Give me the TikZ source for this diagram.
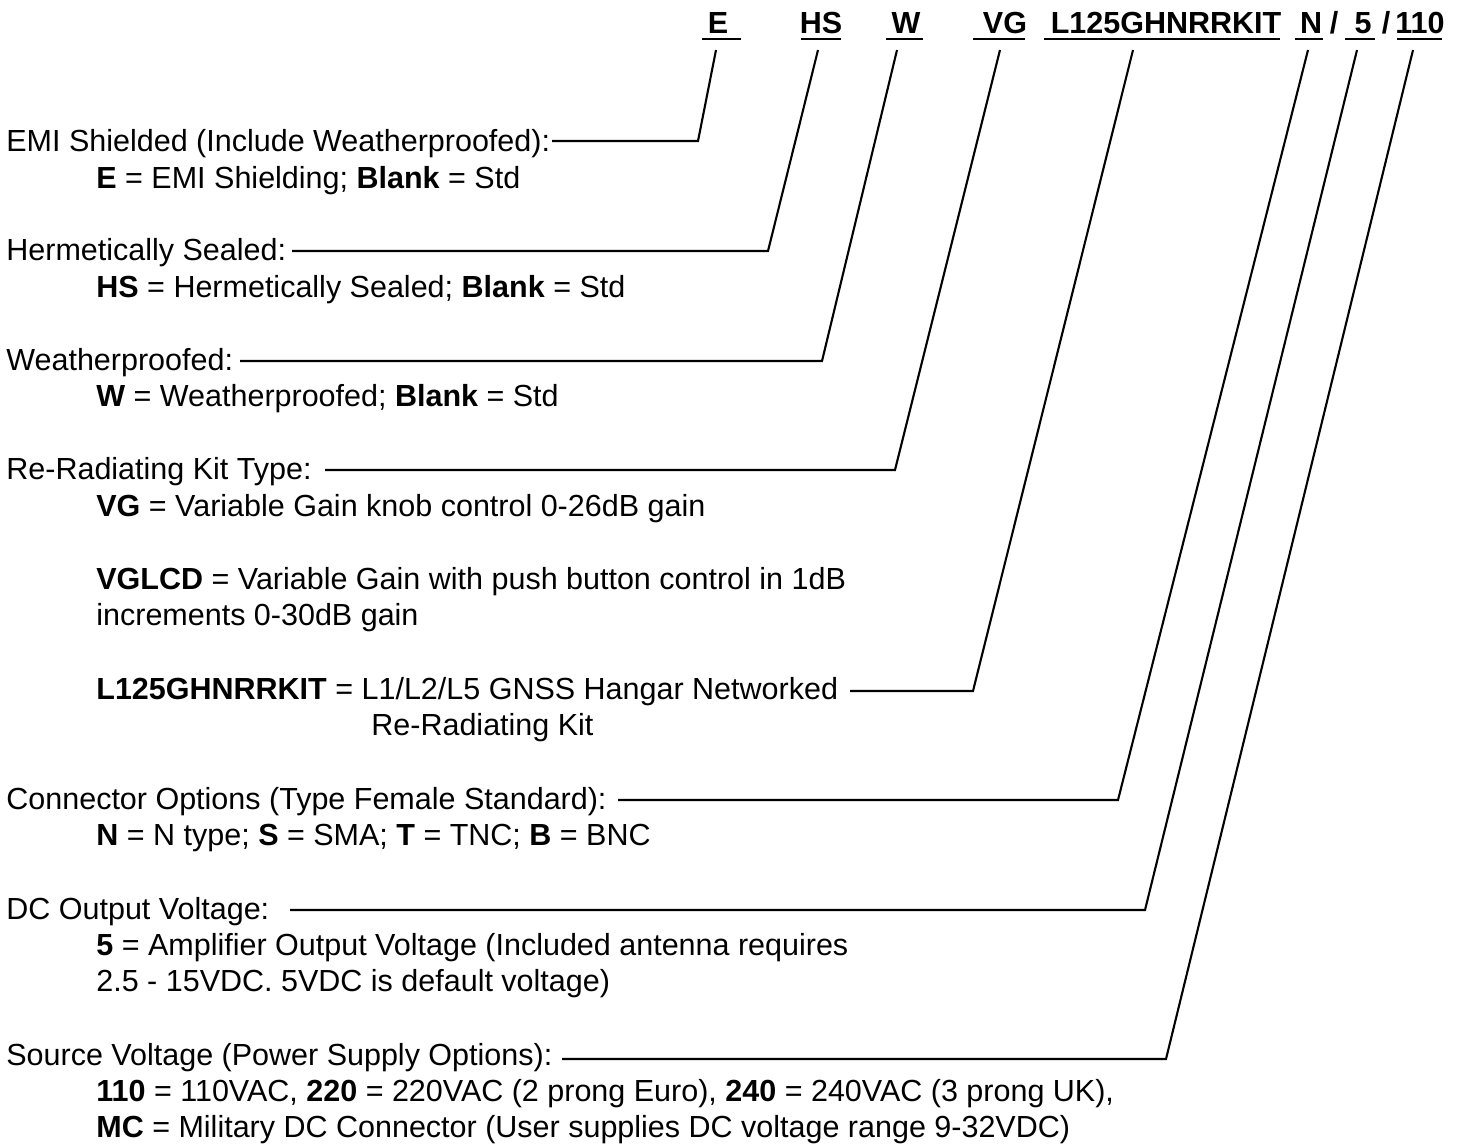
\documentclass[tikz,border=0pt]{standalone}
\usepackage{fontspec}
\setmainfont{Liberation Sans}
\begin{document}
\begin{tikzpicture}[x=0.5pt,y=-0.5pt,
  txt/.style={anchor=base west,inner sep=0pt,font=\fontsize{15.25}{18}\selectfont},
  code/.style={anchor=base,inner sep=0pt,font=\fontsize{15.25}{18}\selectfont\bfseries},
  conn/.style={line width=1.05pt,line join=miter},
  uline/.style={line width=0.9pt}]
\fill[white] (0,0) rectangle (1465,1147);
\useasboundingbox (0,0) rectangle (1465,1147);
% header code
\node[code] (cE) at (718,33) {E};
\node[code] (cHS) at (821,33) {HS};
\node[code] (cW) at (906,33) {W};
\node[code] (cVG) at (1005,33) {VG};
\node[code] (cL) at (1166,33) {L125GHNRRKIT};
\node[code] (cN) at (1311,33) {N};
\node[code] (s1) at (1334,33) {/};
\node[code] (c5) at (1363,33) {5};
\node[code] (s2) at (1386,33) {/};
\node[code] (c110) at (1420,33) {110};
\draw[uline] (702,39) -- (741,39);
\draw[uline] (801,39) -- (841,39);
\draw[uline] (886,39) -- (923,39);
\draw[uline] (973,39) -- (1025,39);
\draw[uline] (1044,39) -- (1280,39);
\draw[uline] (1295,39) -- (1323,39);
\draw[uline] (1345,39) -- (1375,39);
\draw[uline] (1397,39) -- (1442,39);
% texts
\node[txt] (h1) at (6,151) {EMI Shielded (Include Weatherproofed):};
\node[txt] (d1) at (96,188) {\textbf{E} = EMI Shielding; \textbf{Blank} = Std};
\node[txt] (h2) at (6,260) {Hermetically Sealed:};
\node[txt] (d2) at (96,297) {\textbf{HS} = Hermetically Sealed; \textbf{Blank} = Std};
\node[txt] (h3) at (6,370) {Weatherproofed:};
\node[txt] (d3) at (96,406) {\textbf{W} = Weatherproofed; \textbf{Blank} = Std};
\node[txt] (h4) at (6,479) {Re-Radiating Kit Type:};
\node[txt] (d4a) at (96,516) {\textbf{VG} = Variable Gain knob control 0-26dB gain};
\node[txt] (d4b) at (96,589) {\textbf{VGLCD} = Variable Gain with push button control in 1dB};
\node[txt] (d4c) at (96,625) {increments 0-30dB gain};
\node[txt] (d4d) at (96,699) {\textbf{L125GHNRRKIT} = L1/L2/L5 GNSS Hangar Networked};
\node[txt] (d4e) at (371,735) {Re-Radiating Kit};
\node[txt] (h5) at (6,809) {Connector Options (Type Female Standard):};
\node[txt] (d5) at (96,845) {\textbf{N} = N type; \textbf{S} = SMA; \textbf{T} = TNC; \textbf{B} = BNC};
\node[txt] (h6) at (6,919) {DC Output Voltage:};
\node[txt] (d6a) at (96,955) {\textbf{5} = Amplifier Output Voltage (Included antenna requires};
\node[txt] (d6b) at (96,991) {2.5 - 15VDC. 5VDC is default voltage)};
\node[txt] (h7) at (6,1065) {Source Voltage (Power Supply Options):};
\node[txt] (d7a) at (96,1101) {\textbf{110} = 110VAC, \textbf{220} = 220VAC (2 prong Euro), \textbf{240} = 240VAC (3 prong UK),};
\node[txt] (d7b) at (96,1137) {\textbf{MC} = Military DC Connector (User supplies DC voltage range 9-32VDC)};
% connector coordinates
\coordinate (tE) at (716,50);   \coordinate (kE) at (698,141);  \coordinate (eE) at (552,141);
\coordinate (tHS) at (818,50);  \coordinate (kHS) at (768,251); \coordinate (eHS) at (292,251);
\coordinate (tW) at (897,50);   \coordinate (kW) at (822,361);  \coordinate (eW) at (240,361);
\coordinate (tVG) at (1000,50); \coordinate (kVG) at (895,470); \coordinate (eVG) at (325,470);
\coordinate (tL) at (1133,50);  \coordinate (kL) at (973,691);  \coordinate (eL) at (850,691);
\coordinate (tN) at (1308,50);  \coordinate (kN) at (1118,800); \coordinate (eN) at (618,800);
\coordinate (t5) at (1357,50);  \coordinate (k5) at (1145,910); \coordinate (e5) at (290,910);
\coordinate (t110) at (1413,50);\coordinate (k110) at (1166,1059);\coordinate (e110) at (562,1059);
\draw[conn] (tE) -- (kE) -- (eE);
\draw[conn] (tHS) -- (kHS) -- (eHS);
\draw[conn] (tW) -- (kW) -- (eW);
\draw[conn] (tVG) -- (kVG) -- (eVG);
\draw[conn] (tL) -- (kL) -- (eL);
\draw[conn] (tN) -- (kN) -- (eN);
\draw[conn] (t5) -- (k5) -- (e5);
\draw[conn] (t110) -- (k110) -- (e110);
\end{tikzpicture}
\end{document}
